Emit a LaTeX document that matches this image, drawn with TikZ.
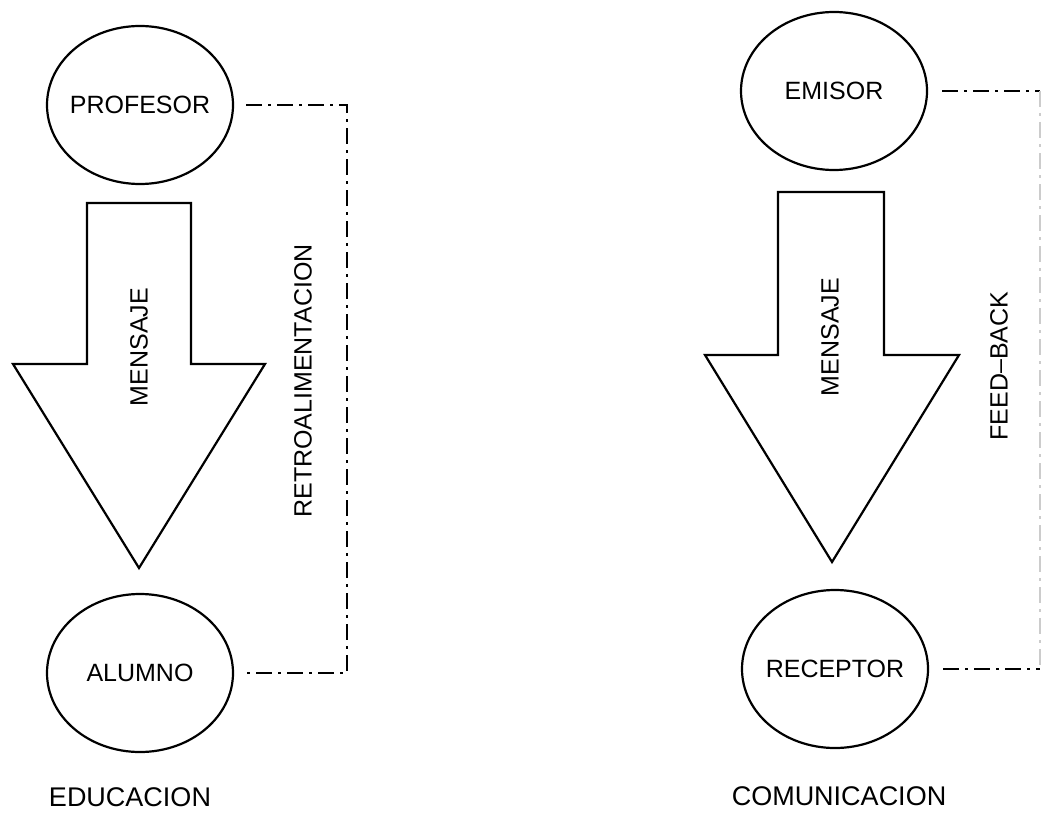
\documentclass[tikz,border=0pt]{standalone}
\usepackage{fontspec}
\setmainfont{Liberation Sans}
\usetikzlibrary{shapes.geometric}

\begin{document}
\begin{tikzpicture}[x=0.5pt,y=-0.5pt,
    every node/.style={font=\fontsize{12.5}{15}\selectfont},
    actor/.style={ellipse,draw,line width=1.1pt,minimum width=93pt,minimum height=79pt,inner xsep=-8pt,inner ysep=0pt},
    msgarrow/.style={draw,line width=1.1pt,line join=miter},
    feedback/.style={draw,line width=1pt,dash pattern=on 8pt off 3pt on 1.5pt off 3pt},
    title/.style={font=\fontsize{13.5}{16}\selectfont}]

    \useasboundingbox (0,0) rectangle (1043,813);

    \node[actor] (prof) at (140,105) {PROFESOR};
    \node[actor] (alum) at (140,673) {ALUMNO};
    \path[msgarrow] (87,203) -- (191,203) -- (191,364) -- (265,364) -- (139,568) -- (13,364) -- (87,364) -- cycle;
    \node[rotate=90] (msgL) at (139,347) {MENSAJE};
    \coordinate (retroT) at (347,105);
    \coordinate (retroB) at (347,673);
    \path[feedback] ([xshift=6pt]prof.east) -- (retroT) -- (retroB) -- ([xshift=6pt]alum.east);
    \node[rotate=90] (retro) at (303,381) {RETROALIMENTACION};
    \node[title] (educ) at (130,797) {EDUCACION};

    \node[actor] (emis) at (834,91) {EMISOR};
    \node[actor] (rece) at (835,669) {RECEPTOR};
    \path[msgarrow] (778,192) -- (884,192) -- (884,355) -- (959,355) -- (832,562) -- (705,355) -- (778,355) -- cycle;
    \node[rotate=90] (msgR) at (830,337) {MENSAJE};
    \coordinate (feedT) at (1040,91);
    \coordinate (feedB) at (1040,669);
    \path[feedback] ([xshift=7pt]emis.east) -- (feedT);
    \path[feedback,draw=black!20] (feedT) -- (feedB);
    \path[feedback] ([xshift=7pt]rece.east) -- (feedB);
    \node[rotate=90] (feed) at (999,366) {FEED--BACK};
    \node[title] (comu) at (839,796) {COMUNICACION};

  \end{tikzpicture}
\end{document}
